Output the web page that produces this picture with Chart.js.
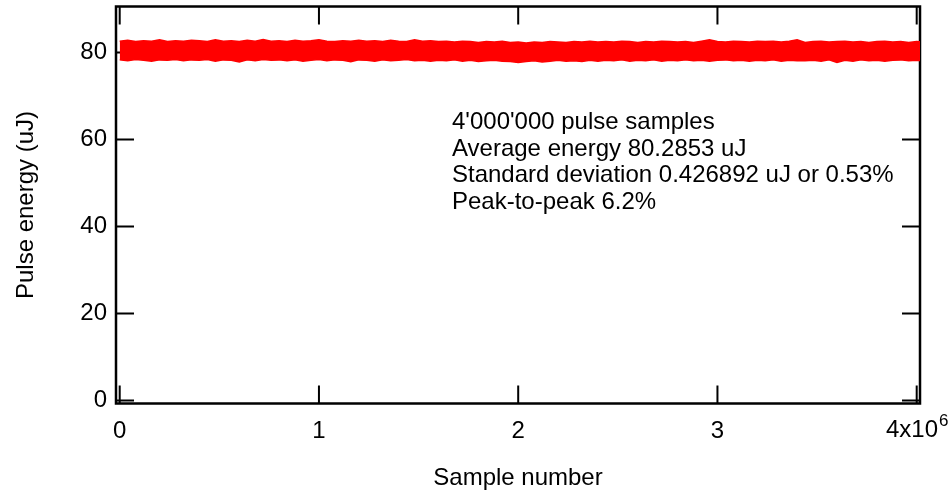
<!DOCTYPE html>
<html>
<head>
<meta charset="utf-8">
<script src="https://cdn.jsdelivr.net/npm/chart.js@4/dist/chart.umd.min.js"></script>
<style>
  html, body { margin: 0; padding: 0; background: #fff; }
  canvas { display: block; }
</style>
</head>
<body>
<canvas id="pulseChart" width="949" height="491"></canvas>
<script>
// envelope of the pulse energy trace, one reading every 40'000 samples
const sampleStep = 40000;
const upperEnergy = [
  82.6, 82.8, 82.5, 82.7, 82.6, 82.9, 82.5, 82.7, 82.6, 82.8, 82.7,
  82.5, 82.9, 82.6, 82.7, 82.5, 82.8, 82.6, 83.0, 82.6, 82.7,
  82.5, 82.8, 82.6, 82.7, 82.9, 82.6, 82.5, 82.7, 82.6, 82.8,
  82.6, 82.7, 82.5, 82.8, 82.6, 82.5, 82.9, 82.6, 82.7, 82.5,
  82.6, 82.4, 82.6, 82.5, 82.3, 82.5, 82.4, 82.6, 82.3, 82.4,
  82.2, 82.4, 82.3, 82.5, 82.4, 82.3, 82.5, 82.4, 82.6, 82.4,
  82.5, 82.4, 82.6, 82.5, 82.3, 82.5, 82.4, 82.6, 82.5, 82.4,
  82.5, 82.3, 82.6, 82.9, 82.5, 82.4, 82.6, 82.5, 82.4, 82.6,
  82.5, 82.6, 82.4, 82.6, 82.9, 82.3, 82.5, 82.6, 82.4, 82.5,
  82.6, 82.4, 82.5, 82.3, 82.5, 82.6, 82.4, 82.5, 82.3, 82.5, 82.4
];
const lowerEnergy = [
  78.3, 78.1, 78.4, 78.2, 78.0, 78.3, 78.2, 78.4, 78.1, 78.3, 78.2,
  78.4, 78.0, 78.3, 78.2, 77.8, 78.3, 78.1, 78.4, 78.2, 78.3,
  78.1, 78.3, 78.0, 78.2, 78.4, 78.1, 78.3, 78.2, 77.9, 78.3,
  78.2, 78.0, 78.3, 78.1, 78.2, 78.4, 78.1, 78.2, 78.0, 78.2,
  78.1, 78.3, 78.0, 78.2, 77.9, 78.1, 78.2, 78.0, 77.9, 77.7,
  77.9, 78.1, 77.8, 78.0, 78.2, 78.0, 78.1, 77.9, 78.2, 78.0,
  78.2, 78.1, 78.3, 78.0, 78.2, 78.1, 78.3, 78.0, 78.2, 78.1,
  78.3, 78.1, 78.2, 78.0, 78.2, 78.3, 78.1, 78.2, 78.0, 78.2,
  78.1, 78.3, 78.0, 78.2, 78.1, 78.1, 78.2, 78.0, 78.3, 77.7,
  78.2, 78.0, 78.3, 78.1, 78.2, 78.0, 78.2, 78.3, 78.1, 78.2, 78.1
];
const sampleX = upperEnergy.map((_, i) => i * sampleStep);

const xTicks = [0, 1e6, 2e6, 3e6, 4e6];
const yTicks = [0, 20, 40, 60, 80];
const noteLines = [
  "4'000'000 pulse samples",
  "Average energy 80.2853 uJ",
  "Standard deviation 0.426892 uJ or 0.53%",
  "Peak-to-peak 6.2%"
];

const FONT = '"Liberation Sans", Arial, sans-serif';
const tickLen = 18;

// Igor-style frame: box on all four sides, ticks pointing inward
const framePlugin = {
    id: 'frame',
    beforeDatasetsDraw(chart) {
        const { ctx, chartArea: a, scales: { x, y } } = chart;
        ctx.save();
        ctx.strokeStyle = '#000';
        ctx.lineWidth = 2;
        ctx.beginPath();
        xTicks.forEach(v => {
            const px = x.getPixelForValue(v);
            ctx.moveTo(px, a.top); ctx.lineTo(px, a.top + tickLen);
            ctx.moveTo(px, a.bottom); ctx.lineTo(px, a.bottom - tickLen);
        });
        yTicks.forEach(v => {
            const py = y.getPixelForValue(v);
            ctx.moveTo(a.left, py); ctx.lineTo(a.left + tickLen, py);
            ctx.moveTo(a.right, py); ctx.lineTo(a.right - tickLen, py);
        });
        ctx.stroke();
        ctx.lineWidth = 2.5;
        ctx.strokeRect(a.left, a.top, a.right - a.left, a.bottom - a.top);
        ctx.restore();
    },
    afterDraw(chart) {
        const { ctx, scales: { x } } = chart;
        ctx.save();
        ctx.fillStyle = '#000';
        ctx.textBaseline = 'alphabetic';
        ctx.textAlign = 'left';

        // last x label with exponent
        ctx.font = '24px ' + FONT;
        const base = '4x10';
        const wBase = ctx.measureText(base).width;
        ctx.font = '17px ' + FONT;
        const wExp = ctx.measureText('6').width;
        const startX = x.getPixelForValue(4e6) - (wBase + wExp) / 2;
        ctx.font = '24px ' + FONT;
        ctx.fillText(base, startX, 437);
        ctx.font = '17px ' + FONT;
        ctx.fillText('6', startX + wBase + 1, 425.5);

        // statistics note
        ctx.font = '24px ' + FONT;
        noteLines.forEach((t, i) => ctx.fillText(t, 452, 129 + i * 26.5));
        ctx.restore();
    }
};

new Chart(document.getElementById('pulseChart'), {
    type: 'line',
    data: {
        datasets: [
            {
                label: 'lower',
                data: sampleX.map((sx, i) => ({ x: sx, y: lowerEnergy[i] })),
                borderColor: '#ff0000', borderWidth: 1.5,
                pointRadius: 0, tension: 0, fill: false
            },
            {
                label: 'upper',
                data: sampleX.map((sx, i) => ({ x: sx, y: upperEnergy[i] })),
                borderColor: '#ff0000', borderWidth: 1.5,
                backgroundColor: '#ff0000',
                pointRadius: 0, tension: 0, fill: '-1'
            }
        ]
    },
    options: {
        responsive: false,
        animation: false,
        layout: { padding: { left: 0, right: 29, top: 6.5, bottom: 0 } },
        plugins: { legend: { display: false }, tooltip: { enabled: false } },
        scales: {
            x: {
                type: 'linear',
                min: -0.01857e6, max: 4.01656e6,
                grid: { display: false, drawTicks: false },
                border: { display: false },
                afterBuildTicks: s => { s.ticks = xTicks.map(v => ({ value: v })); },
                afterFit: s => { s.height = 87.5; s.paddingLeft = 0; s.paddingRight = 0; },
                ticks: {
                    color: '#000', padding: 13.5, maxRotation: 0,
                    font: { family: FONT, size: 24 },
                    callback: v => (v === 4e6 ? '' : String(v / 1e6))
                },
                title: {
                    display: true, text: 'Sample number', color: '#000',
                    font: { family: FONT, size: 24 }, padding: { top: 0, bottom: -2 }
                }
            },
            y: {
                type: 'linear',
                min: -0.69, max: 90.57,
                grid: { display: false, drawTicks: false },
                border: { display: false },
                afterBuildTicks: s => { s.ticks = yTicks.map(v => ({ value: v })); },
                afterFit: s => { s.width = 116; s.paddingTop = 0; s.paddingBottom = 0; },
                ticks: {
                    color: '#000', padding: 9,
                    font: { family: FONT, size: 24 }
                },
                title: {
                    display: true, text: 'Pulse energy (uJ)', color: '#000',
                    font: { family: FONT, size: 24 }, padding: { top: 12, bottom: 0 }
                }
            }
        }
    },
    plugins: [framePlugin]
});
</script>
</body>
</html>
